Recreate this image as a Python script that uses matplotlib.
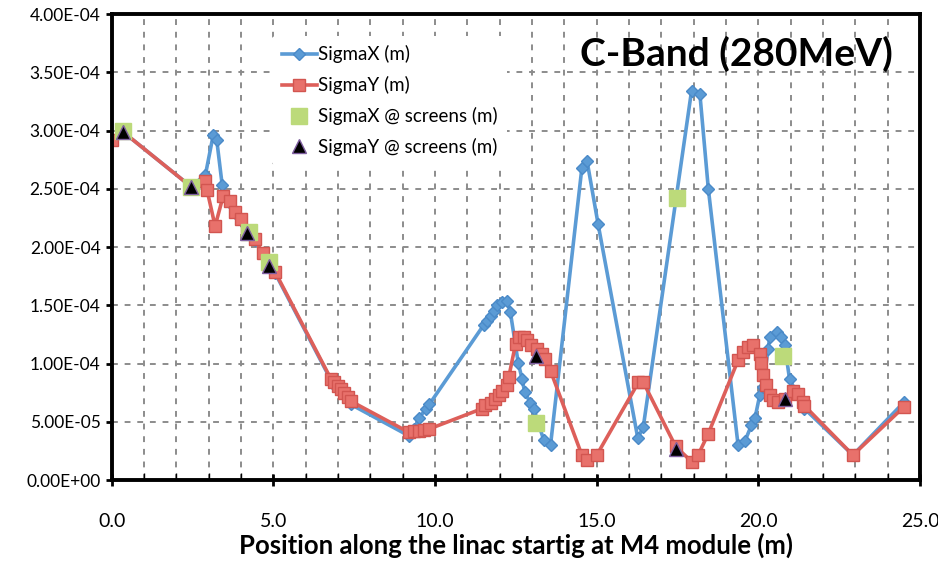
import matplotlib.pyplot as plt
import numpy as np
from matplotlib.ticker import MultipleLocator, FormatStrFormatter

plt.rcParams['font.family'] = ['Lato', 'DejaVu Sans']

# positions (m) and beam sizes (units of 1e-4 m)
x_sigx = [0.0, 0.35, 2.45, 2.9, 3.14, 3.25, 3.42, 3.65, 3.8, 4.0, 4.2, 4.42, 4.68, 4.86, 5.05,
          6.78, 6.88, 6.99, 7.09, 7.2, 7.3, 7.4, 9.2, 9.35, 9.5, 9.72, 9.82,
          11.5, 11.6, 11.72, 11.82, 11.92, 12.06, 12.23, 12.33, 12.57, 12.69, 12.77, 12.95, 13.05,
          13.36, 13.57, 14.54, 14.70, 15.04, 16.27, 16.44, 17.93, 18.19, 18.45,
          19.37, 19.58, 19.78, 19.89, 20.04, 20.14, 20.30, 20.35, 20.58, 20.71, 20.81, 20.96,
          21.42, 22.92, 24.5]
y_sigx = [2.92, 2.99, 2.52, 2.62, 2.96, 2.92, 2.53, 2.38, 2.29, 2.23, 2.12, 2.06, 1.94, 1.85, 1.78,
          0.86, 0.82, 0.79, 0.76, 0.73, 0.69, 0.65, 0.38, 0.44, 0.53, 0.615, 0.65,
          1.33, 1.37, 1.41, 1.455, 1.50, 1.53, 1.54, 1.44, 1.01, 0.87, 0.76, 0.66, 0.615,
          0.345, 0.30, 2.68, 2.74, 2.20, 0.36, 0.46, 3.34, 3.31, 2.50,
          0.30, 0.335, 0.47, 0.53, 0.73, 0.80, 1.13, 1.23, 1.27, 1.23, 1.16, 0.87,
          0.615, 0.216, 0.67]

x_sigy = [0.0, 0.35, 2.45, 2.9, 2.95, 3.2, 3.45, 3.65, 3.8, 4.0, 4.2, 4.42, 4.68, 4.86, 5.05,
          6.78, 6.88, 6.99, 7.09, 7.2, 7.3, 7.4, 9.2, 9.35, 9.5, 9.66, 9.82,
          11.46, 11.56, 11.72, 11.85, 11.97, 12.07, 12.23, 12.28, 12.49, 12.59, 12.74, 12.84, 12.98,
          13.15, 13.31, 13.41, 13.57, 14.54, 14.70, 15.0, 16.29, 16.44, 17.44, 17.93, 18.14, 18.45,
          19.37, 19.53, 19.68, 19.83, 20.04, 20.09, 20.14, 20.24, 20.35, 20.45, 20.60, 20.81,
          21.07, 21.22, 21.37, 21.42, 22.92, 24.5]
y_sigy = [2.92, 2.99, 2.52, 2.57, 2.49, 2.18, 2.44, 2.40, 2.30, 2.24, 2.13, 2.07, 1.95, 1.85, 1.79,
          0.87, 0.84, 0.81, 0.78, 0.75, 0.715, 0.678, 0.41, 0.42, 0.425, 0.43, 0.44,
          0.615, 0.645, 0.667, 0.70, 0.73, 0.77, 0.815, 0.886, 1.17, 1.23, 1.23, 1.20, 1.16,
          1.13, 1.085, 1.04, 0.94, 0.216, 0.17, 0.216, 0.84, 0.84, 0.29, 0.16, 0.22, 0.40,
          1.03, 1.10, 1.14, 1.16, 1.085, 1.01, 0.90, 0.815, 0.73, 0.69, 0.67, 0.70,
          0.77, 0.74, 0.67, 0.64, 0.216, 0.63]

x_scr_x = [0.35, 2.45, 4.25, 4.86, 13.13, 17.47, 20.76]
y_scr_x = [3.0, 2.52, 2.13, 1.87, 0.487, 2.42, 1.07]
x_scr_y = [0.35, 2.45, 4.2, 4.86, 13.12, 17.46, 20.81]
y_scr_y = [2.99, 2.52, 2.12, 1.84, 1.07, 0.27, 0.70]

scale = 1e-4

fig = plt.figure(figsize=(9.38, 5.63), dpi=100)
ax = fig.add_axes([0.119, 0.147, 0.862, 0.828])

ax.plot(x_sigx, np.array(y_sigx) * scale, color='#5b9bd5', lw=2.6, marker='D', ms=6.5,
        mfc='#5b9bd5', mec='#4a8ac8', label='SigmaX (m)', zorder=3)
ax.plot(x_sigy, np.array(y_sigy) * scale, color='#dd5f5a', lw=2.6, marker='s', ms=8.5,
        mfc='#e8716b', mec='#d25550', label='SigmaY (m)', zorder=4)
ax.plot(x_scr_x, np.array(y_scr_x) * scale, ls='none', marker='s', ms=12,
        mfc='#bcda7a', mec='#bcda7a', label='SigmaX @ screens (m)', zorder=5)
ax.plot(x_scr_y, np.array(y_scr_y) * scale, ls='none', marker='^', ms=10,
        mfc='black', mec='#7f5fa0', mew=1.0, label='SigmaY @ screens (m)', zorder=6)

ax.set_xlim(0, 25)
ax.set_ylim(0, 4e-4)
ax.xaxis.set_major_locator(MultipleLocator(5))
ax.xaxis.set_minor_locator(MultipleLocator(1))
ax.yaxis.set_major_locator(MultipleLocator(0.5e-4))
ax.xaxis.set_major_formatter(FormatStrFormatter('%.1f'))
ax.yaxis.set_major_formatter(FormatStrFormatter('%.2E'))

ax.grid(True, which='both', axis='x', color='#8c8c8c', ls=(0, (3, 3.5)), lw=1.4)
ax.grid(True, which='major', axis='y', color='#8c8c8c', ls=(0, (3, 3.5)), lw=1.4)
ax.set_axisbelow(True)

for s in ax.spines.values():
    s.set_linewidth(2.8)
    s.set_zorder(10)

ax.tick_params(axis='x', which='major', direction='inout', length=9, width=2, labelsize=14, pad=19)
ax.tick_params(axis='x', which='minor', direction='in', length=5, width=1)
ax.tick_params(axis='y', which='major', direction='out', length=4, width=2, labelsize=12.5, pad=4)

ax.set_xlabel('Position along the linac startig at M4 module (m)', fontsize=18.5,
              fontweight='bold', labelpad=2)

ax.text(24.15, 3.66e-4, 'C-Band (280MeV)', fontsize=28, fontweight='bold',
        ha='right', va='center', zorder=7)

leg = ax.legend(loc='upper left', bbox_to_anchor=(0.187, 0.973), frameon=True,
                fontsize=13.5, handlelength=1.9, handletextpad=0.05, labelspacing=0.68,
                borderpad=0.5)
leg.get_frame().set_edgecolor('none')
leg.get_frame().set_facecolor('white')
leg.get_frame().set_alpha(1)
leg.set_zorder(8)

fig.savefig('out.png', dpi=100)
